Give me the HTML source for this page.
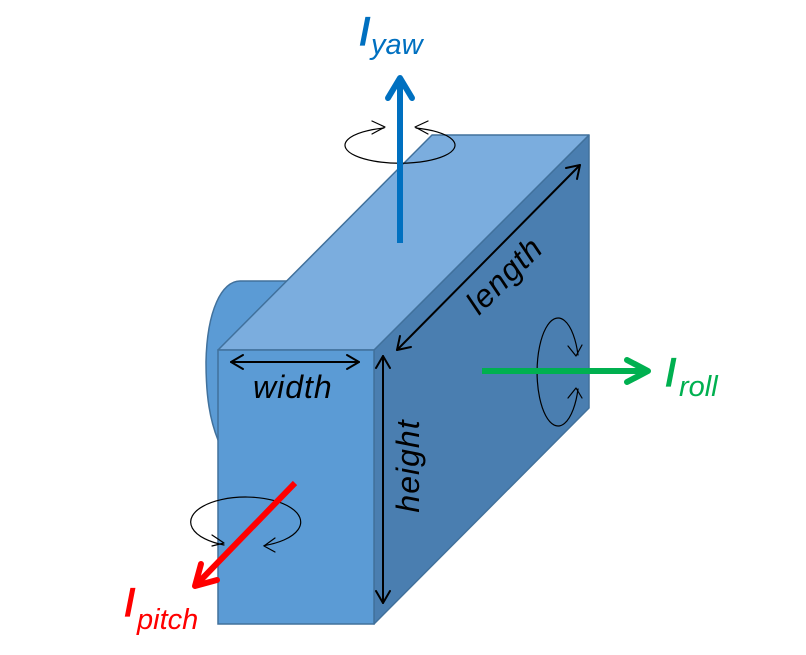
<!DOCTYPE html>
<html>
<head>
<meta charset="utf-8">
<style>
  html,body{margin:0;padding:0;background:#fff;}
  svg{display:block;}
  text{font-family:"Liberation Sans", sans-serif;font-style:italic;}
</style>
</head>
<body>
<svg width="806" height="655" viewBox="0 0 806 655" xmlns="http://www.w3.org/2000/svg">
  <!-- cylinder bump behind box -->
  <path d="M300,281 L240,281 C222,281 207,310 206,362 C206,397 210,420 218,440 L300,440 Z" fill="#5b9bd5" stroke="#41719c" stroke-width="1.5"/>
  <!-- right face -->
  <polygon points="374,350 589,135 589,408 374,624" fill="#4a7eb0" stroke="#41719c" stroke-width="1.5" stroke-linejoin="round"/>
  <!-- top face -->
  <polygon points="218,350 432,135 589,135 374,350" fill="#7badde" stroke="#41719c" stroke-width="1.5" stroke-linejoin="round"/>
  <!-- front face -->
  <rect x="218" y="350" width="156" height="274" fill="#5b9bd5" stroke="#41719c" stroke-width="1.5"/>

  <!-- dimension arrows -->
  <g stroke="#000" stroke-width="2" fill="none" stroke-linecap="round" stroke-linejoin="round">
    <!-- width -->
    <line x1="231" y1="362" x2="359" y2="362"/>
    <polyline points="243,355 231,362 243,369"/>
    <polyline points="347,355 359,362 347,369"/>
    <!-- height -->
    <line x1="383" y1="356" x2="383" y2="603"/>
    <polyline points="376,368 383,356 390,368"/>
    <polyline points="376,591 383,603 390,591"/>
    <!-- length -->
    <line x1="397" y1="350" x2="580" y2="165"/>
    <polyline points="566,168 580,165 577,179"/>
    <polyline points="400,336 397,350 411,347"/>
  </g>

  <!-- rotation ellipses -->
  <g stroke="#000" stroke-width="1.2" fill="none" stroke-linecap="round" stroke-linejoin="round">
    <!-- yaw -->
    <path d="M384,128 A55 18 0 1 0 416,128"/>
    <polyline points="372,121 385,127 372,134"/>
    <polyline points="428,121 415,127 428,134"/>
    <!-- roll -->
    <path d="M578,355 A21 54 0 1 0 578,389"/>
    <polyline points="568,346 576,356 582,345"/>
    <polyline points="568,398 576,388 582,398"/>
    <!-- pitch -->
    <path d="M224,545 A55 25 0 1 1 264,545.6"/>
    <polyline points="212,535 224,543 212,546"/>
    <polyline points="275,538 264,546 275,552"/>
  </g>

  <!-- yaw arrow -->
  <line x1="400" y1="243" x2="400" y2="82" stroke="#0070c0" stroke-width="6"/>
  <polyline points="388,98 400,78 412,98" stroke="#0070c0" stroke-width="6" fill="none" stroke-linecap="round" stroke-linejoin="round"/>

  <!-- roll arrow -->
  <line x1="482" y1="371" x2="646" y2="371" stroke="#00b050" stroke-width="6"/>
  <polyline points="627,360 648,371 627,382" stroke="#00b050" stroke-width="6" fill="none" stroke-linecap="round" stroke-linejoin="round"/>

  <!-- pitch arrow -->
  <line x1="295" y1="483" x2="197" y2="584" stroke="#ff0000" stroke-width="6"/>
  <polyline points="201,564 195,586 217,580" stroke="#ff0000" stroke-width="6" fill="none" stroke-linecap="round" stroke-linejoin="round"/>

  <!-- labels -->
  <text x="359" y="45" font-size="40" fill="#0070c0" stroke="#0070c0" stroke-width="1.3">I</text>
  <text x="371" y="54" font-size="29" fill="#0070c0">yaw</text>

  <text x="665" y="386" font-size="40" fill="#00b050" stroke="#00b050" stroke-width="1.3">I</text>
  <text x="679" y="396" font-size="29" fill="#00b050">roll</text>

  <text x="124" y="616" font-size="40" fill="#ff0000" stroke="#ff0000" stroke-width="1.3">I</text>
  <text x="137" y="629" font-size="29" fill="#ff0000">pitch</text>

  <text x="253" y="398" font-size="32" fill="#000" letter-spacing="1">width</text>
  <text transform="translate(419,466) rotate(-90)" text-anchor="middle" font-size="32" fill="#000" letter-spacing="1">height</text>
  <text transform="translate(512,283) rotate(-45)" text-anchor="middle" font-size="32" fill="#000" letter-spacing="1">length</text>
</svg>
</body>
</html>
